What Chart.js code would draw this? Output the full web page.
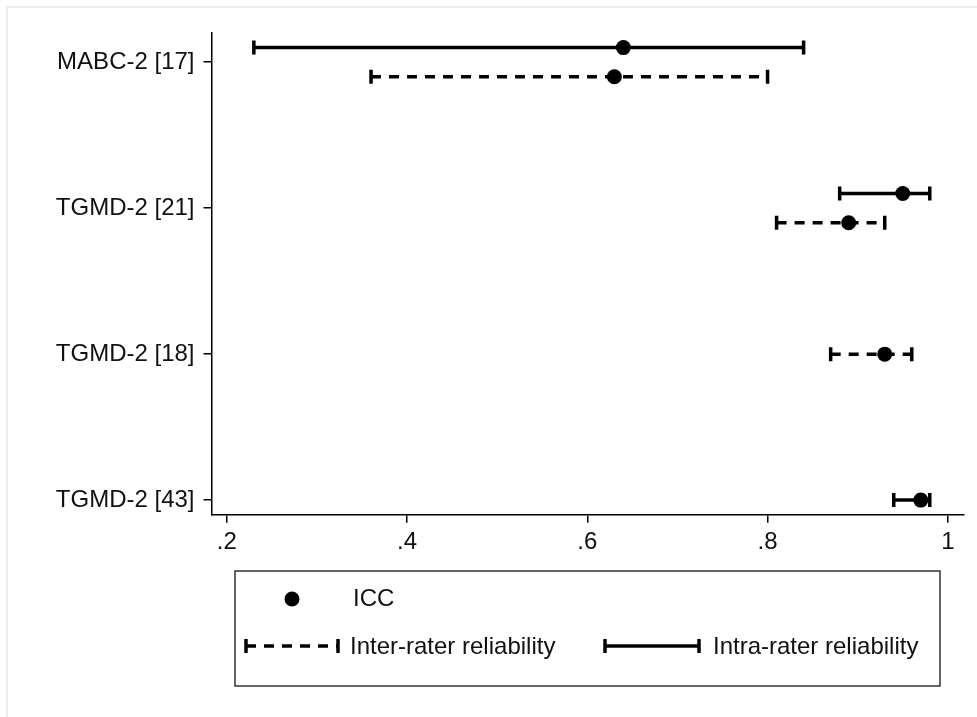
<!DOCTYPE html>
<html>
  <head>
    <title>ICC forest plot</title>
    <script src="https://cdn.jsdelivr.net/npm/chart.js@4.4.1/dist/chart.umd.min.js"></script>
    <style>
      body { margin: 0; background: #fff; }
      canvas { display: block; }
    </style>
  </head>
  <body>
    <canvas id="canvas" width="977" height="717"></canvas>
    <script>
      // studies, top to bottom, and their row on the y scale
      const studies = ['MABC-2 [17]', 'TGMD-2 [21]', 'TGMD-2 [18]', 'TGMD-2 [43]'];
      const studyRow = [4, 3, 2, 1];

      // intra-rater reliability (solid)
      const intraIcc = [0.64, 0.95, null, 0.97];
      const intraLow = [0.23, 0.88, null, 0.94];
      const intraHigh = [0.84, 0.98, null, 0.98];

      // inter-rater reliability (dashed)
      const interIcc = [0.63, 0.89, 0.93, null];
      const interLow = [0.36, 0.81, 0.87, null];
      const interHigh = [0.80, 0.93, 0.96, null];

      const xTicks = [0.2, 0.4, 0.6, 0.8, 1];
      const xTickLabels = ['.2', '.4', '.6', '.8', '1'];

      const legendLabels = ['ICC', 'Inter-rater reliability', 'Intra-rater reliability'];

      const FONT = "'Liberation Sans', Arial, sans-serif";
      const ROW_SHIFT = 0.1; // intra above, inter below when a study has both

      function rowY(i, kind) {
        const both = intraIcc[i] != null && interIcc[i] != null;
        if (!both) return studyRow[i];
        return studyRow[i] + (kind === 'intra' ? ROW_SHIFT : -ROW_SHIFT);
      }

      const datasets = [];
      const points = [];
      studies.forEach((s, i) => {
        if (intraIcc[i] != null) {
          const y = rowY(i, 'intra');
          datasets.push({
            label: s + ' intra',
            data: [{ x: intraLow[i], y }, { x: intraHigh[i], y }],
            borderColor: '#000',
            borderWidth: 3.5,
            pointStyle: 'line',
            rotation: 90,
            pointRadius: 7,
            pointBorderWidth: 3.5,
            pointBorderColor: '#000',
            showLine: true,
            order: 1,
          });
          points.push({ x: intraIcc[i], y });
        }
        if (interIcc[i] != null) {
          const y = rowY(i, 'inter');
          datasets.push({
            label: s + ' inter',
            data: [{ x: interLow[i], y }, { x: interHigh[i], y }],
            borderColor: '#000',
            borderWidth: 3.5,
            borderDash: [10, 8],
            pointStyle: 'line',
            rotation: 90,
            pointRadius: 7,
            pointBorderWidth: 3.5,
            pointBorderColor: '#000',
            showLine: true,
            order: 1,
          });
          points.push({ x: interIcc[i], y });
        }
      });
      datasets.push({
        label: 'ICC',
        data: points,
        pointStyle: 'circle',
        pointRadius: 7.5,
        backgroundColor: '#000',
        borderColor: '#000',
        borderWidth: 0,
        showLine: false,
        order: 0,
      });

      // legend box drawn below the plot, like the Stata one
      const legendBox = {
        id: 'legendBox',
        afterDraw(chart) {
          const ctx = chart.ctx;
          ctx.save();
          // faint outer frame of the graph region
          ctx.strokeStyle = '#e6e6e6';
          ctx.lineWidth = 1.5;
          ctx.beginPath();
          ctx.moveTo(7, 717);
          ctx.lineTo(7, 7);
          ctx.lineTo(977, 7);
          ctx.stroke();

          ctx.strokeStyle = '#333';
          ctx.lineWidth = 1.5;
          ctx.strokeRect(235, 571, 705, 115);

          ctx.fillStyle = '#000';
          ctx.beginPath();
          ctx.arc(292, 599, 7.5, 0, Math.PI * 2);
          ctx.fill();

          ctx.font = '24px ' + FONT;
          ctx.textBaseline = 'middle';
          ctx.fillStyle = '#111';
          ctx.fillText(legendLabels[0], 353, 599);
          ctx.fillText(legendLabels[1], 350, 647);
          ctx.fillText(legendLabels[2], 713, 647);

          const sample = (x0, x1, y, dash) => {
            ctx.strokeStyle = '#000';
            ctx.lineWidth = 3.5;
            ctx.setLineDash(dash);
            ctx.beginPath();
            ctx.moveTo(x0, y);
            ctx.lineTo(x1, y);
            ctx.stroke();
            ctx.setLineDash([]);
            ctx.beginPath();
            ctx.moveTo(x0, y - 7);
            ctx.lineTo(x0, y + 7);
            ctx.moveTo(x1, y - 7);
            ctx.lineTo(x1, y + 7);
            ctx.stroke();
          };
          sample(246, 338, 646, [10, 8]);
          sample(605, 699, 646, []);
          ctx.restore();
        },
      };

      const ctx = document.getElementById('canvas').getContext('2d');
      new Chart(ctx, {
        type: 'scatter',
        data: { datasets },
        plugins: [legendBox],
        options: {
          responsive: false,
          animation: false,
          events: [],
          layout: { padding: { top: 33, right: 13.5, left: 0, bottom: 0 } },
          plugins: { legend: { display: false }, tooltip: { enabled: false } },
          scales: {
            x: {
              type: 'linear',
              min: 0.183,
              max: 1.0174,
              afterBuildTicks: (scale) => { scale.ticks = xTicks.map((v) => ({ value: v })); },
              afterFit: (scale) => { scale.height = 202.3; },
              grid: { drawOnChartArea: false, drawTicks: true, tickLength: 8, color: '#000', lineWidth: 1.5 },
              border: { display: true, color: '#000', width: 1.5 },
              ticks: {
                autoSkip: false,
                maxRotation: 0,
                padding: 5,
                color: '#111',
                font: { family: FONT, size: 24 },
                callback: (v) => xTickLabels[xTicks.findIndex((t) => Math.abs(t - v) < 1e-6)],
              },
            },
            y: {
              type: 'linear',
              min: 0.9,
              max: 4.2,
              afterBuildTicks: (scale) => { scale.ticks = studyRow.map((v) => ({ value: v })); },
              afterFit: (scale) => { scale.width = 211.5; },
              grid: { drawOnChartArea: false, drawTicks: true, tickLength: 8, color: '#000', lineWidth: 1.5 },
              border: { display: true, color: '#000', width: 1.5 },
              ticks: {
                autoSkip: false,
                padding: 9,
                color: '#111',
                font: { family: FONT, size: 24 },
                callback: (v) => studies[studyRow.indexOf(v)],
              },
            },
          },
        },
      });
    </script>
  </body>
</html>
